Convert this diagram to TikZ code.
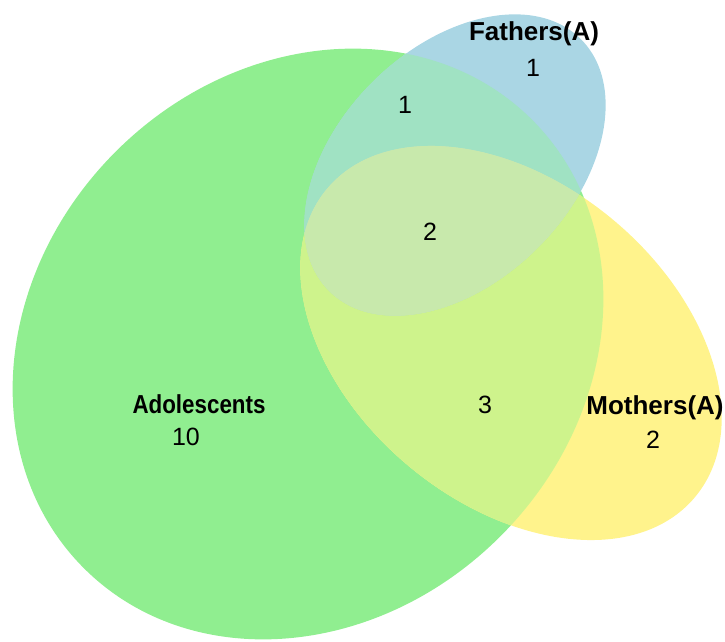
\documentclass[tikz,border=0pt]{standalone}
\usepackage{fontspec}
\setmainfont{Liberation Sans}
\definecolor{adolgreen}{RGB}{144,238,144}
\definecolor{fathblue}{RGB}{170,214,228}
\definecolor{mothyellow}{RGB}{255,243,140}
\definecolor{adolfath}{RGB}{160,226,195}
\definecolor{adolmoth}{RGB}{206,243,140}
\definecolor{fathmoth}{RGB}{212,230,182}
\definecolor{allthree}{RGB}{200,233,172}
\tikzset{
	setname/.style={font=\fontsize{26}{30}\selectfont\bfseries, inner sep=0pt},
	setcount/.style={font=\fontsize{25}{29}\selectfont, inner sep=0pt}
}
\newcommand{\adolset}{(308,297) ellipse [x radius=317pt, y radius=272pt]}
\newcommand{\fathset}{(455,476) ellipse [x radius=178pt, y radius=117pt]}
\newcommand{\mothset}{(511,298) ellipse [x radius=240pt, y radius=160pt]}
\begin{document}
\begin{tikzpicture}[x=1pt,y=1pt]
		\useasboundingbox (0,0) rectangle (725,641);
		\fill[adolgreen, rotate around={45:(308,297)}] \adolset;
		\fill[mothyellow, rotate around={-40:(511,298)}] \mothset;
		\fill[fathblue, rotate around={45:(455,476)}] \fathset;

		\begin{scope}
			\clip[rotate around={45:(308,297)}] \adolset;
			\fill[adolmoth, rotate around={-40:(511,298)}] \mothset;
			\fill[adolfath, rotate around={45:(455,476)}] \fathset;
		\end{scope}
		\begin{scope}
			\clip[rotate around={-40:(511,298)}] \mothset;
			\fill[fathmoth, rotate around={45:(455,476)}] \fathset;
			\clip[rotate around={45:(308,297)}] \adolset;
			\fill[allthree, rotate around={45:(455,476)}] \fathset;
		\end{scope}

		\node[setname] (fathname) at (534,607) {Fathers(A)};
		\node[setcount] (fathonly) at (533,573) {1};
		\node[setcount] (adolfath) at (405,536) {1};
		\node[setcount] (all) at (430,409) {2};
		\node[setcount] (adolmoth) at (485,236) {3};
		\node[setname] (adolname) at (199,237) {\scalebox{0.86}[1]{Adolescents}};
		\node[setcount] (adolonly) at (186,204) {10};
		\node[setname] (mothname) at (655,233) {Mothers(A)};
		\node[setcount] (mothonly) at (653,201) {2};
	\end{tikzpicture}
\end{document}
